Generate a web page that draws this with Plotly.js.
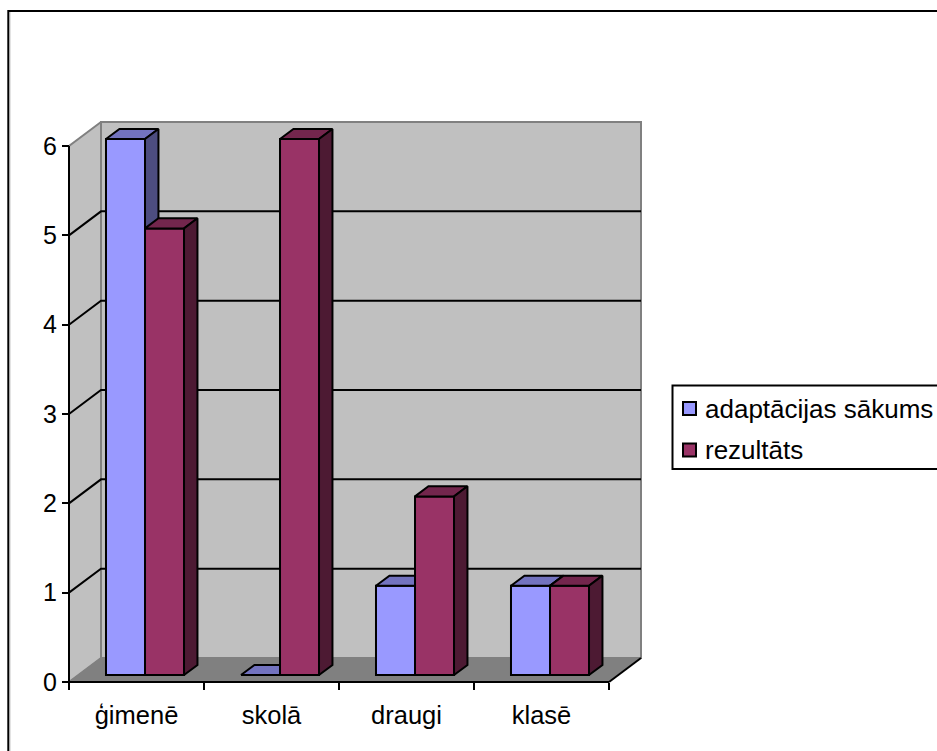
<!DOCTYPE html>
<html>
<head>
<meta charset="utf-8">
<script src="https://cdn.plot.ly/plotly-3.0.1.min.js"></script>
<style>html,body{margin:0;padding:0;background:#fff;overflow:hidden}</style>
</head>
<body>
<div id="chart" style="width:937px;height:751px"></div>
<script>
// Values
const categories = ['ģimenē', 'skolā', 'draugi', 'klasē'];
const seriesNames = ['adaptācijas sākums', 'rezultāts'];
const startValues = [6, 0, 1, 1];
const resultValues = [5, 6, 2, 1];

// Colours: front, top and side of each series' columns
const frontColors = ['#9999FF', '#993366'];
const topColors = ['#7373BF', '#73264D'];
const sideColors = ['#4D4D80', '#4D1A33'];

// Pixel scale of the axes and the oblique projection of the depth direction
const pxPerCat = 135, pxPerValue = 89.33;
const depthX = 32 / pxPerCat, depthY = 24 / pxPerValue;
const colNear = 0.29, colFar = 0.71, colWidth = 0.289, seam = 0.063;
const maxValue = 6, xMin = -0.5, xMax = 3.5;
const edgeW = 2;

const px = (x, d) => x + d * depthX;
const py = (v, d) => v + d * depthY;

function poly(points, fill, line, lineW, xa, ya) {
  return {
    type: 'scatter', mode: 'lines', fill: 'toself', fillcolor: fill,
    x: points.map(p => px(p[0], p[2])), y: points.map(p => py(p[1], p[2])),
    line: {color: line, width: lineW}, showlegend: false,
    hoverinfo: 'skip', xaxis: xa, yaxis: ya
  };
}
function path(xs, ys, color, width) {
  return {
    type: 'scatter', mode: 'lines', x: xs, y: ys, line: {color: color, width: width},
    showlegend: false, hoverinfo: 'skip', xaxis: 'x', yaxis: 'y'
  };
}

const traces = [];

// Left wall, back wall and floor
traces.push(poly([[xMin,0,0],[xMin,maxValue,0],[xMin,maxValue,1],[xMin,0,1],[xMin,0,0]], '#C0C0C0', '#808080', edgeW, 'x', 'y'));
traces.push(poly([[xMin,0,1],[xMin,maxValue,1],[xMax,maxValue,1],[xMax,0,1],[xMin,0,1]], '#C0C0C0', '#808080', edgeW, 'x', 'y'));
traces.push(poly([[xMin,0,0],[xMin,0,1],[xMax,0,1],[xMax,0,0],[xMin,0,0]], '#808080', '#808080', 1, 'x', 'y'));

// Grid lines running along both walls
for (let v = 1; v < maxValue; v++) {
  traces.push(path([px(xMin,0), px(xMin,1), px(xMax,1)], [py(v,0), py(v,1), py(v,1)], '#000', edgeW));
}
// Floor's outer edge on the right, then the two axis lines
traces.push(path([px(xMax,0), px(xMax,1)], [py(0,0), py(0,1)], '#000', edgeW));
traces.push(path([xMin, xMin, xMax], [maxValue, 0, 0], '#000', edgeW));

// One overlay per series, so each series stacks over the one before it
[startValues, resultValues].forEach((values, s) => {
  const xa = s === 0 ? 'x2' : 'x3', ya = s === 0 ? 'y2' : 'y3';
  const x0 = s === 0 ? -colWidth : 0;
  traces.push({
    type: 'bar', name: seriesNames[s], x: categories.map((c, i) => i), y: values,
    base: values.map(() => py(0, colNear)),
    width: colWidth, offset: x0 + seam, showlegend: false,
    marker: {color: frontColors[s], line: {color: '#000', width: edgeW}},
    xaxis: xa, yaxis: ya, hoverinfo: 'skip'
  });
  values.forEach((v, i) => {
    const l = i + x0 + seam - colNear * depthX, r = l + colWidth;
    traces.push(poly([[l,v,colNear],[l,v,colFar],[r,v,colFar],[r,v,colNear],[l,v,colNear]], topColors[s], '#000', edgeW, xa, ya));
    if (v > 0) traces.push(poly([[r,0,colNear],[r,v,colNear],[r,v,colFar],[r,0,colFar],[r,0,colNear]], sideColors[s], '#000', edgeW, xa, ya));
  });
});

// Plot rectangle in pixels; the axes' origin (69, 682) sits inside it
const L = 60, R = 660, T = 100, B = 690, W = R - L, H = B - T, originX = 69, originY = 682;
const xRange = [xMin - (originX - L) / pxPerCat, xMin + (R - originX) / pxPerCat];
const yRange = [-(B - originY) / pxPerValue, (originY - T) / pxPerValue];
const paperX = p => (p - L) / W;
const paperY = p => 1 - (p - T) / H;
const fontFamily = '"Liberation Sans", Arial, sans-serif';
const tickFont = {family: fontFamily, size: 25, color: '#000'};
const catFont = {family: fontFamily, size: 25.5, color: '#000'};
const keyFont = {family: fontFamily, size: 26, color: '#000'};

const hiddenX = {range: xRange, visible: false, fixedrange: true, overlaying: 'x'};
const hiddenY = {range: yRange, visible: false, fixedrange: true, overlaying: 'y'};

// Series key: box running off the right edge, one swatch and label per series
const keyRows = [408.5, 450];
const keyShapes = [
  {type: 'rect', xref: 'paper', yref: 'paper', x0: paperX(672.5), x1: paperX(960), y0: paperY(385.5), y1: paperY(469), fillcolor: '#fff', line: {color: '#000', width: 2}}
].concat(keyRows.map((rowY, s) => ({
  type: 'rect', xref: 'paper', yref: 'paper', x0: paperX(683), x1: paperX(696), y0: paperY(rowY - 6.5), y1: paperY(rowY + 6.5),
  fillcolor: frontColors[s], line: {color: '#000', width: 2}
})));
const keyLabels = keyRows.map((rowY, s) => ({
  xref: 'paper', yref: 'paper', x: paperX(704), y: paperY(rowY), xanchor: 'left', yanchor: 'middle',
  text: seriesNames[s], showarrow: false, font: keyFont, borderpad: 0
}));

const layout = {
  width: 937, height: 751, autosize: false,
  margin: {l: L, r: 937 - R, t: T, b: 751 - B, autoexpand: false},
  paper_bgcolor: '#fff', plot_bgcolor: 'rgba(0,0,0,0)',
  font: tickFont, barmode: 'overlay', showlegend: false,
  xaxis: {
    range: xRange, anchor: 'free', position: (B - originY) / H,
    tickmode: 'array', tickvals: [0, 1, 2, 3], ticktext: categories,
    ticks: '', showgrid: false, zeroline: false, showline: false,
    ticklabelstandoff: 15, tickfont: catFont, fixedrange: true,
    minor: {tickmode: 'array', tickvals: [-0.5, 0.5, 1.5, 2.5, 3.5], ticks: 'outside', ticklen: 7, tickwidth: edgeW, tickcolor: '#000', showgrid: false}
  },
  yaxis: {
    range: yRange, anchor: 'free', position: (originX - L) / W,
    tickmode: 'array', tickvals: [0, 1, 2, 3, 4, 5, 6],
    ticks: 'outside', ticklen: 7, tickwidth: edgeW, tickcolor: '#000',
    showgrid: false, zeroline: false, showline: false,
    tickfont: tickFont, fixedrange: true
  },
  xaxis2: Object.assign({anchor: 'y2'}, hiddenX),
  yaxis2: Object.assign({anchor: 'x2'}, hiddenY),
  xaxis3: Object.assign({anchor: 'y3'}, hiddenX),
  yaxis3: Object.assign({anchor: 'x3'}, hiddenY),
  annotations: keyLabels,
  shapes: [
    {type: 'line', xref: 'paper', yref: 'paper', x0: paperX(8), x1: paperX(937), y0: paperY(11), y1: paperY(11), line: {color: '#000', width: 2}},
    {type: 'line', xref: 'paper', yref: 'paper', x0: paperX(8.3), x1: paperX(8.3), y0: paperY(10), y1: paperY(751), line: {color: '#000', width: 2}},
    {type: 'line', xref: 'paper', yref: 'paper', x0: paperX(9.8), x1: paperX(9.8), y0: paperY(12), y1: paperY(751), line: {color: '#A0A0A0', width: 1}}
  ].concat(keyShapes)
};

Plotly.newPlot('chart', traces, layout, {displayModeBar: false});
</script>
</body>
</html>
